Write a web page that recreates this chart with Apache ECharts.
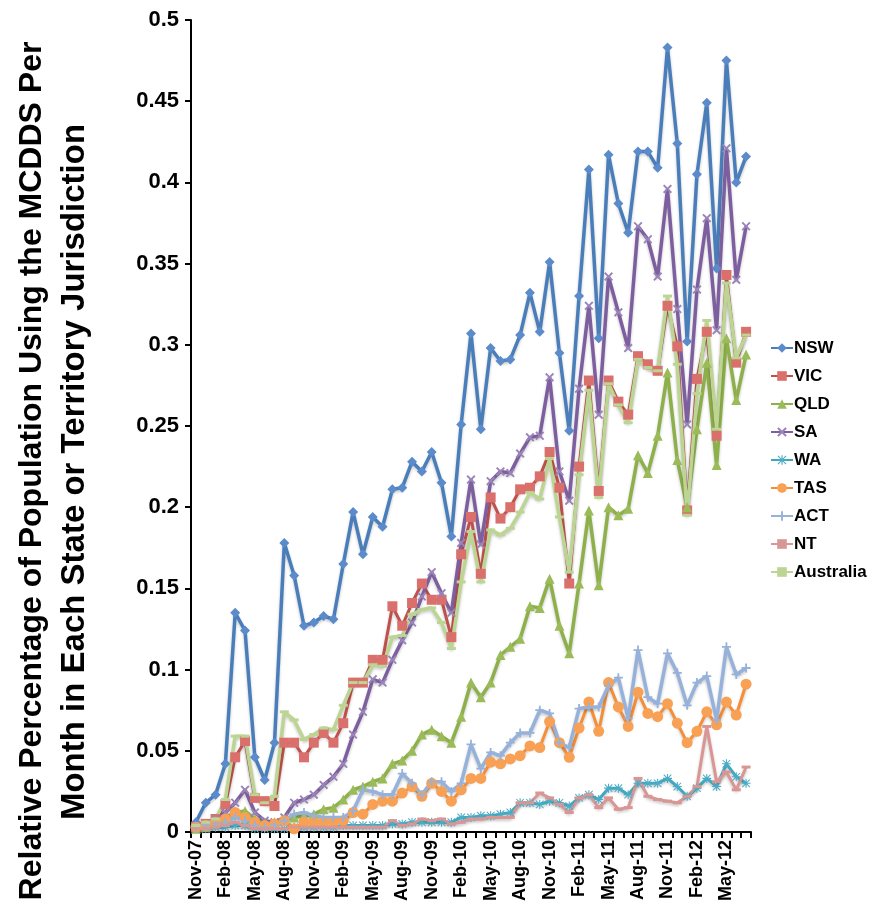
<!DOCTYPE html>
<html><head><meta charset="utf-8">
<script src="https://cdn.jsdelivr.net/npm/echarts@6/dist/echarts.min.js"></script>
<style>html,body{margin:0;padding:0;background:#fff}#c{width:869px;height:907px}</style>
</head><body><div id="c"></div>
<script>
const categories = ["Nov-07","Dec-07","Jan-08","Feb-08","Mar-08","Apr-08","May-08","Jun-08","Jul-08","Aug-08","Sep-08","Oct-08","Nov-08","Dec-08","Jan-09","Feb-09","Mar-09","Apr-09","May-09","Jun-09","Jul-09","Aug-09","Sep-09","Oct-09","Nov-09","Dec-09","Jan-10","Feb-10","Mar-10","Apr-10","May-10","Jun-10","Jul-10","Aug-10","Sep-10","Oct-10","Nov-10","Dec-10","Jan-11","Feb-11","Mar-11","Apr-11","May-11","Jun-11","Jul-11","Aug-11","Sep-11","Oct-11","Nov-11","Dec-11","Jan-12","Feb-12","Mar-12","Apr-12","May-12","Jun-12","Jul-12"];
const yTicks = [0,0.05,0.1,0.15,0.2,0.25,0.3,0.35,0.4,0.45,0.5];
const NSW = [0.006,0.018,0.023,0.042,0.135,0.124,0.046,0.032,0.055,0.178,0.158,0.127,0.129,0.133,0.131,0.165,0.197,0.171,0.194,0.188,0.211,0.212,0.228,0.222,0.234,0.215,0.182,0.251,0.307,0.248,0.298,0.290,0.291,0.306,0.332,0.308,0.351,0.295,0.247,0.330,0.408,0.304,0.417,0.387,0.369,0.419,0.419,0.409,0.483,0.424,0.302,0.405,0.449,0.347,0.475,0.400,0.416];
const VIC = [0.003,0.005,0.008,0.017,0.046,0.056,0.021,0.019,0.016,0.055,0.055,0.046,0.055,0.061,0.055,0.067,0.092,0.092,0.106,0.106,0.139,0.127,0.141,0.153,0.143,0.143,0.120,0.171,0.194,0.159,0.206,0.193,0.200,0.211,0.212,0.219,0.234,0.212,0.153,0.225,0.278,0.210,0.278,0.265,0.257,0.293,0.288,0.284,0.324,0.299,0.198,0.279,0.308,0.244,0.343,0.289,0.308];
const QLD = [0.002,0.003,0.006,0.009,0.012,0.013,0.008,0.006,0.006,0.008,0.009,0.010,0.011,0.014,0.015,0.020,0.026,0.028,0.031,0.033,0.042,0.044,0.050,0.060,0.063,0.059,0.055,0.071,0.092,0.083,0.092,0.109,0.114,0.119,0.139,0.138,0.156,0.127,0.110,0.153,0.198,0.152,0.200,0.195,0.199,0.232,0.221,0.244,0.283,0.229,0.200,0.248,0.289,0.226,0.304,0.266,0.294];
const SA = [0.004,0.005,0.008,0.012,0.018,0.026,0.012,0.007,0.006,0.009,0.018,0.020,0.023,0.029,0.034,0.042,0.060,0.074,0.094,0.092,0.106,0.118,0.129,0.145,0.160,0.147,0.135,0.178,0.217,0.177,0.216,0.222,0.221,0.233,0.243,0.244,0.280,0.222,0.204,0.273,0.324,0.257,0.342,0.320,0.298,0.373,0.365,0.342,0.396,0.322,0.251,0.334,0.378,0.309,0.421,0.340,0.373];
const WA = [0.002,0.002,0.003,0.003,0.004,0.004,0.002,0.002,0.002,0.002,0.003,0.003,0.003,0.003,0.003,0.004,0.004,0.004,0.004,0.004,0.005,0.005,0.006,0.006,0.006,0.006,0.006,0.009,0.009,0.010,0.010,0.011,0.012,0.018,0.018,0.017,0.019,0.018,0.016,0.021,0.023,0.020,0.027,0.027,0.023,0.030,0.030,0.030,0.033,0.028,0.022,0.027,0.033,0.028,0.042,0.034,0.030];
const TAS = [0.003,0.004,0.006,0.008,0.012,0.009,0.006,0.004,0.005,0.007,0.002,0.006,0.006,0.006,0.006,0.007,0.012,0.011,0.017,0.019,0.019,0.024,0.028,0.022,0.030,0.025,0.019,0.026,0.033,0.033,0.043,0.042,0.045,0.047,0.053,0.052,0.068,0.055,0.046,0.064,0.080,0.062,0.092,0.077,0.065,0.086,0.073,0.071,0.079,0.067,0.055,0.062,0.074,0.066,0.080,0.072,0.091];
const ACT = [0.003,0.004,0.005,0.006,0.009,0.007,0.004,0.003,0.004,0.007,0.011,0.012,0.010,0.009,0.009,0.009,0.013,0.026,0.025,0.023,0.023,0.036,0.030,0.023,0.031,0.031,0.025,0.030,0.054,0.039,0.049,0.047,0.055,0.061,0.061,0.075,0.073,0.055,0.052,0.076,0.077,0.077,0.090,0.095,0.070,0.112,0.083,0.079,0.110,0.098,0.078,0.092,0.096,0.069,0.114,0.097,0.101];
const NT = [0.002,0.002,0.003,0.004,0.006,0.004,0.002,0.002,0.002,0.002,0.003,0.003,0.003,0.003,0.003,0.003,0.003,0.003,0.003,0.003,0.007,0.004,0.005,0.008,0.007,0.008,0.005,0.006,0.008,0.008,0.009,0.009,0.009,0.018,0.018,0.024,0.021,0.017,0.012,0.021,0.023,0.015,0.021,0.014,0.015,0.033,0.022,0.020,0.019,0.018,0.022,0.028,0.065,0.031,0.037,0.026,0.040];
const Australia = [0.004,0.006,0.008,0.020,0.059,0.059,0.023,0.018,0.022,0.074,0.069,0.057,0.060,0.064,0.063,0.078,0.092,0.092,0.103,0.102,0.120,0.121,0.134,0.137,0.138,0.129,0.113,0.154,0.185,0.154,0.186,0.183,0.187,0.197,0.209,0.205,0.230,0.194,0.160,0.220,0.272,0.206,0.276,0.263,0.252,0.291,0.286,0.284,0.330,0.288,0.195,0.270,0.315,0.248,0.338,0.292,0.306];

const FONT = "'Liberation Sans', Arial, sans-serif";
const X_SYM = 'path://M1.5,0L5,3.5L8.5,0L10,1.5L6.5,5L10,8.5L8.5,10L5,6.5L1.5,10L0,8.5L3.5,5L0,1.5Z';
const STAR_SYM = 'path://M4.4,0H5.6V10H4.4Z M0,4.4H10V5.6H0Z M1.2,0.4L5,4.2L8.8,0.4L9.6,1.2L5.8,5L9.6,8.8L8.8,9.6L5,5.8L1.2,9.6L0.4,8.8L4.2,5L0.4,1.2Z';
const PLUS_SYM = 'path://M4,0H6V4H10V6H6V10H4V6H0V4H4Z';
const DASH_SYM = 'path://M0,0H10V2H0Z';

function mk(name, data, color, symbol, size, lw, symColor) {
  return {
    name, type: 'line', data, symbol, symbolSize: size, showSymbol: true, showAllSymbol: true,
    lineStyle: { color, width: lw, shadowColor: 'rgba(0,0,0,0.22)', shadowBlur: 3, shadowOffsetY: 2 },
    itemStyle: { color: symColor || color },
    emphasis: { disabled: true },
    animation: false
  };
}

const series = [
  mk('NSW', NSW, '#4A7EBB', 'diamond', 10, 3.5, '#5B8BCB'),
  mk('VIC', VIC, '#C0504D', 'rect', 10, 3, '#D9706C'),
  mk('QLD', QLD, '#8DB04A', 'triangle', 10, 3.5, '#9BBB59'),
  mk('SA', SA, '#7D5FA0', X_SYM, 9, 3.5, '#9A84B8'),
  mk('WA', WA, '#3EA7BF', STAR_SYM, 9, 3, '#4BACC6'),
  mk('TAS', TAS, '#F68E37', 'circle', 11, 3, '#F8A054'),
  mk('ACT', ACT, '#97B2DA', PLUS_SYM, 9, 3.5),
  mk('NT', NT, '#D99694', DASH_SYM, [9, 3], 3),
  mk('Australia', Australia, '#BCD593', DASH_SYM, [9, 3], 3.5)
];

const chart = echarts.init(document.getElementById('c'), null, { renderer: 'canvas' });
chart.setOption({
  backgroundColor: '#fff',
  animation: false,
  grid: { left: 191, top: 20, width: 560, height: 812, containLabel: false },
  xAxis: {
    type: 'category', data: categories, boundaryGap: true,
    axisLine: { lineStyle: { color: '#000', width: 2 } },
    axisTick: { show: true, interval: 0, length: 6, lineStyle: { color: '#000', width: 2 } },
    axisLabel: { interval: 2, rotate: 90, margin: 8, color: '#000', fontSize: 18, fontWeight: 'bold', fontFamily: FONT },
    splitLine: { show: false }
  },
  yAxis: {
    type: 'value', min: 0, max: 0.5, interval: 0.05,
    axisLine: { show: true, lineStyle: { color: '#000', width: 2 } },
    axisTick: { show: true, length: 6, lineStyle: { color: '#000', width: 2 } },
    axisLabel: { margin: 12, color: '#000', fontSize: 22, fontWeight: 'bold', fontFamily: FONT,
      formatter: v => String(parseFloat(v.toFixed(2))) },
    splitLine: { show: false }
  },
  legend: {
    orient: 'vertical', left: 765, top: 333, itemWidth: 22, itemHeight: 12, itemGap: 8,
    textStyle: { color: '#000', fontSize: 17, fontWeight: 'bold', fontFamily: FONT, lineHeight: 20, padding: [0,0,0,-4] },
    data: series.map(s => s.name)
  },
  graphic: [
    { type: 'text', x: 32, y: 471, rotation: Math.PI / 2,
      style: { text: 'Relative Percentage of Population Using the MCDDS Per', fontSize: 32, fontWeight: 'bold', fontFamily: FONT, fill: '#000', align: 'center', verticalAlign: 'middle' } },
    { type: 'text', x: 75, y: 472, rotation: Math.PI / 2,
      style: { text: 'Month in Each State or Territory Jurisdiction', fontSize: 33, fontWeight: 'bold', fontFamily: FONT, fill: '#000', align: 'center', verticalAlign: 'middle' } }
  ],
  series
});
</script>
</body></html>
